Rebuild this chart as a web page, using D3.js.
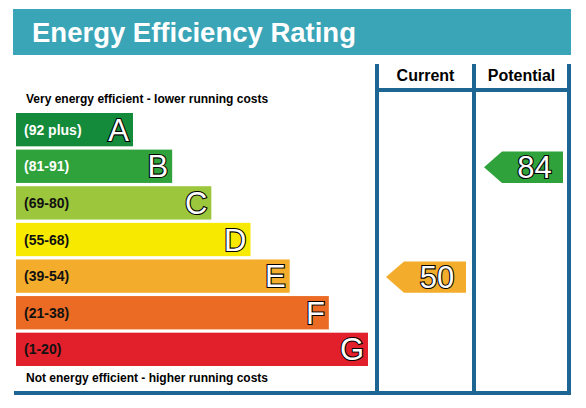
<!DOCTYPE html><html><head><meta charset="utf-8">
<script src="https://cdn.jsdelivr.net/npm/d3@7"></script>
<style>body{margin:0;background:#fff}text{font-family:"Liberation Sans",Arial,sans-serif}</style></head><body>
<script>
const letters=["A","B","C","D","E","F","G"];
const ranges=["(92 plus)","(81-91)","(69-80)","(55-68)","(39-54)","(21-38)","(1-20)"];
const colors=["#138b3a","#2fa23b","#9cc63b","#f7ea00","#f3ac2b","#eb6b24","#e2202b"];
const lowerBounds=[92,81,69,55,39,21,1];
const currentValue=50, potentialValue=84;
const title="Energy Efficiency Rating";
const topNote="Very energy efficient - lower running costs";
const bottomNote="Not energy efficient - higher running costs";
const headers=["Current","Potential"];

const W=586,H=408;
const svg=d3.select("body").append("svg").attr("width",W).attr("height",H);
const blue="#1d6694";
svg.append("rect").attr("x",13).attr("y",9).attr("width",558).attr("height",46).attr("fill","#3ba5b8");
svg.append("text").attr("x",32).attr("y",42).attr("fill","#fff").attr("font-size",27.5).attr("font-weight","bold").text(title);

const y=d3.scaleBand().domain(letters).range([113,366]).paddingInner(0.09);
const w=d3.scaleLinear().domain([0,6]).range([117,352]);
const rating=v=>letters[lowerBounds.findIndex(b=>v>=b)];

svg.append("text").attr("x",26).attr("y",103).attr("font-size",12).attr("font-weight","bold").text(topNote);
svg.append("text").attr("x",26).attr("y",382).attr("font-size",12).attr("font-weight","bold").text(bottomNote);

const g=svg.selectAll("g.bar").data(letters).join("g");
g.append("rect").attr("x",16).attr("y",d=>y(d)).attr("height",y.bandwidth()).attr("width",(d,i)=>w(i)).attr("fill",(d,i)=>colors[i]);
g.append("text").attr("x",24).attr("y",d=>y(d)+y.bandwidth()/2+5).attr("font-size",14).attr("font-weight","bold")
 .attr("fill",(d,i)=>i<2?"#fff":"#111").text((d,i)=>ranges[i]);
g.append("text").attr("x",(d,i)=>16+w(i)-4).attr("y",d=>y(d)+y.bandwidth()/2+11).attr("text-anchor","end")
 .attr("font-size",31).attr("fill","#fff").attr("stroke","#000").attr("stroke-width",2.2).attr("paint-order","stroke").text(d=>d);

const cols=[377,474,569];
cols.forEach(x=>svg.append("line").attr("x1",x).attr("x2",x).attr("y1",64).attr("y2",395).attr("stroke",blue).attr("stroke-width",4));
svg.append("line").attr("x1",14).attr("x2",571).attr("y1",393).attr("y2",393).attr("stroke",blue).attr("stroke-width",4);
svg.append("line").attr("x1",375).attr("x2",571).attr("y1",90).attr("y2",90).attr("stroke",blue).attr("stroke-width",4);
headers.forEach((h,i)=>svg.append("text").attr("x",(cols[i]+cols[i+1])/2).attr("y",81).attr("text-anchor","middle").attr("font-size",16).attr("font-weight","bold").text(h));

function arrow(v,x0,x1){
  const L=rating(v), i=letters.indexOf(L), top=y(L)+2, h=y.bandwidth()-2;
  svg.append("path").attr("d",`M${x0},${top+h/2}L${x0+18},${top}L${x1},${top}L${x1},${top+h}L${x0+18},${top+h}Z`).attr("fill",colors[i]);
  svg.append("text").attr("x",(x0+18+x1)/2+2).attr("y",top+h/2+11).attr("text-anchor","middle").attr("font-size",31)
   .attr("fill","#fff").attr("stroke","#000").attr("stroke-width",2.2).attr("paint-order","stroke").text(v);
}
arrow(currentValue,386,466);
arrow(potentialValue,484,563);
</script></body></html>
